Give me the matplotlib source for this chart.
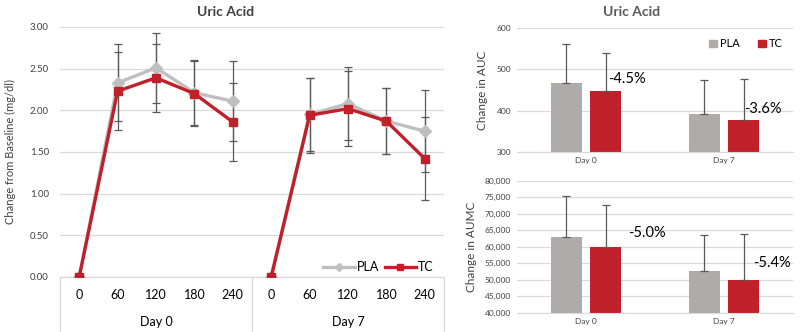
import matplotlib
matplotlib.use("Agg")
import matplotlib.pyplot as plt
import numpy as np
from matplotlib.lines import Line2D
from matplotlib.patches import Patch

plt.rcParams["font.family"] = ["Lato", "DejaVu Sans"]

# ---- data ----
times = ["0", "60", "120", "180", "240"]
days = ["Day 0", "Day 7"]

pla_day0 = [0.00, 2.33, 2.51, 2.21, 2.11]
pla_day0_err = [0.00, 0.46, 0.42, 0.39, 0.48]
tc_day0 = [0.00, 2.23, 2.39, 2.20, 1.86]
tc_day0_err = [0.00, 0.47, 0.41, 0.39, 0.47]

pla_day7 = [0.00, 1.95, 2.08, 1.87, 1.75]
pla_day7_err = [0.00, 0.44, 0.44, 0.40, 0.49]
tc_day7 = [0.00, 1.94, 2.02, 1.87, 1.42]
tc_day7_err = [0.00, 0.45, 0.45, 0.40, 0.50]

auc_pla = [468, 391]
auc_pla_err = [93, 83]
auc_tc = [447, 377]
auc_tc_err = [92, 99]
auc_change = ["-4.5%", "-3.6%"]

aumc_pla = [63000, 52600]
aumc_pla_err = [12500, 11100]
aumc_tc = [60000, 49900]
aumc_tc_err = [12500, 13900]
aumc_change = ["-5.0%", "-5.4%"]

GRAY_LINE = "#BFBFBF"
GRAY_BAR = "#AFABAB"
RED = "#C0202A"
ERR = "#595959"
GRID = "#D9D9D9"
TXT = "#404040"

fig = plt.figure(figsize=(8, 3.32), dpi=100)

# ---- left: time course ----
ax = fig.add_axes([0.075, 0.1657, 0.48, 0.753])
n = len(times)
for d, (p, pe, t, te) in enumerate([(pla_day0, pla_day0_err, tc_day0, tc_day0_err),
                                    (pla_day7, pla_day7_err, tc_day7, tc_day7_err)]):
    x = np.arange(n) + d * n
    ax.errorbar(x[1:], p[1:], yerr=pe[1:], fmt="none", ecolor=ERR,
                elinewidth=0.9, capsize=3, capthick=0.9, zorder=2)
    ax.errorbar(x[1:], t[1:], yerr=te[1:], fmt="none", ecolor=ERR,
                elinewidth=0.9, capsize=3, capthick=0.9, zorder=2)
    ax.plot(x, p, color=GRAY_LINE, lw=2.4, marker="D", ms=6, zorder=3)
    ax.plot(x, t, color=RED, lw=2.4, marker="s", ms=6, zorder=4)

ax.set_xlim(-0.5, 2 * n - 0.5)
ax.set_ylim(0, 3)
ax.set_yticks(np.arange(0, 3.01, 0.5))
ax.set_yticklabels([f"{v:.2f}" for v in np.arange(0, 3.01, 0.5)], fontsize=7, color=TXT)
ax.set_xticks(np.arange(2 * n))
ax.set_xticklabels(times * 2, fontsize=9, color="black")
ax.tick_params(axis="x", length=0, pad=9)
ax.tick_params(axis="y", length=0, pad=8)
ax.yaxis.grid(True, color=GRID, lw=0.9)
ax.set_axisbelow(True)
for s in ["top", "right", "left"]:
    ax.spines[s].set_visible(False)
ax.spines["bottom"].set_color(GRID)
ax.set_ylabel("Change from Baseline (mg/dl)", fontsize=8, color=TXT, labelpad=10)

# group labels and separators below the axis
for d, name in enumerate(days):
    ax.text(d * n + (n - 1) / 2, -0.18, name, transform=ax.get_xaxis_transform(),
            ha="center", va="center", fontsize=9, color="black")
for xs in [-0.5, n - 0.5, 2 * n - 0.5]:
    ax.add_line(Line2D([xs, xs], [0, -0.22], transform=ax.get_xaxis_transform(),
                       color=GRID, lw=0.9, clip_on=False))

handles = [Line2D([], [], color=GRAY_LINE, lw=2.4, marker="D", ms=4, label="PLA"),
           Line2D([], [], color=RED, lw=2.4, marker="s", ms=4, label="TC")]
ax.legend(handles=handles, loc="lower right", bbox_to_anchor=(0.99, -0.01), ncol=2,
          frameon=False, fontsize=9, handlelength=2.5, handletextpad=0.2,
          columnspacing=0.4, borderaxespad=0.1)

fig.text(0.282, 0.965, "Uric Acid", ha="center", va="center", fontsize=10,
         fontweight="bold", color=TXT)


# ---- right: bar panels ----
def bar_panel(rect, pla, pla_err, tc, tc_err, change, ylim, yticks, fmt, ylabel, label_xy):
    bx = fig.add_axes(rect)
    xc = np.arange(len(days))
    w = 0.225
    off = 0.143
    bx.bar(xc - off, pla, w, color=GRAY_BAR, zorder=2)
    bx.bar(xc + off, tc, w, color=RED, zorder=2)
    bx.errorbar(xc - off, pla, yerr=[np.zeros(len(pla)), pla_err], fmt="none",
                ecolor=ERR, elinewidth=0.9, capsize=3, capthick=0.9, zorder=3)
    bx.errorbar(xc + off, tc, yerr=[np.zeros(len(tc)), tc_err], fmt="none",
                ecolor=ERR, elinewidth=0.9, capsize=3, capthick=0.9, zorder=3)
    bx.set_xlim(-0.5, len(days) - 0.5)
    bx.set_ylim(*ylim)
    bx.set_yticks(yticks)
    bx.set_yticklabels([fmt(v) for v in yticks], fontsize=6, color=TXT)
    bx.set_xticks(xc)
    bx.set_xticklabels(days, fontsize=6, color=TXT)
    bx.tick_params(axis="both", length=0, pad=4)
    bx.yaxis.grid(True, color=GRID, lw=0.9)
    bx.set_axisbelow(True)
    for s in ["top", "right", "left"]:
        bx.spines[s].set_visible(False)
    bx.spines["bottom"].set_color(GRID)
    bx.set_ylabel(ylabel, fontsize=8.5, color=TXT, labelpad=6)
    for i, txt in enumerate(change):
        bx.text(i + label_xy[i][0], label_xy[i][1], txt, ha="center", va="center",
                fontsize=10.5, color="black")
    return bx


top = bar_panel([0.646, 0.543, 0.345, 0.3717], auc_pla, auc_pla_err, auc_tc, auc_tc_err,
                auc_change, (300, 600), [300, 400, 500, 600], lambda v: f"{v:d}",
                "Change in AUC", [(0.30, 477), (0.28, 404)])
top.legend(handles=[Patch(color=GRAY_BAR, label="PLA"), Patch(color=RED, label="TC")],
           loc="upper right", bbox_to_anchor=(1.0, 1.0), ncol=2, frameon=False,
           fontsize=8, handlelength=0.7, handleheight=0.7, handletextpad=0.3,
           columnspacing=1.6)

bottom = bar_panel([0.646, 0.058, 0.345, 0.3976], aumc_pla, aumc_pla_err, aumc_tc,
                   aumc_tc_err, aumc_change, (40000, 80000),
                   list(range(40000, 80001, 5000)), lambda v: f"{v:,}",
                   "Change in AUMC", [(0.44, 64200), (0.35, 55100)])

fig.text(0.79, 0.965, "Uric Acid", ha="center", va="center", fontsize=10,
         fontweight="bold", color="#595959")

fig.savefig("out.png", dpi=100)
